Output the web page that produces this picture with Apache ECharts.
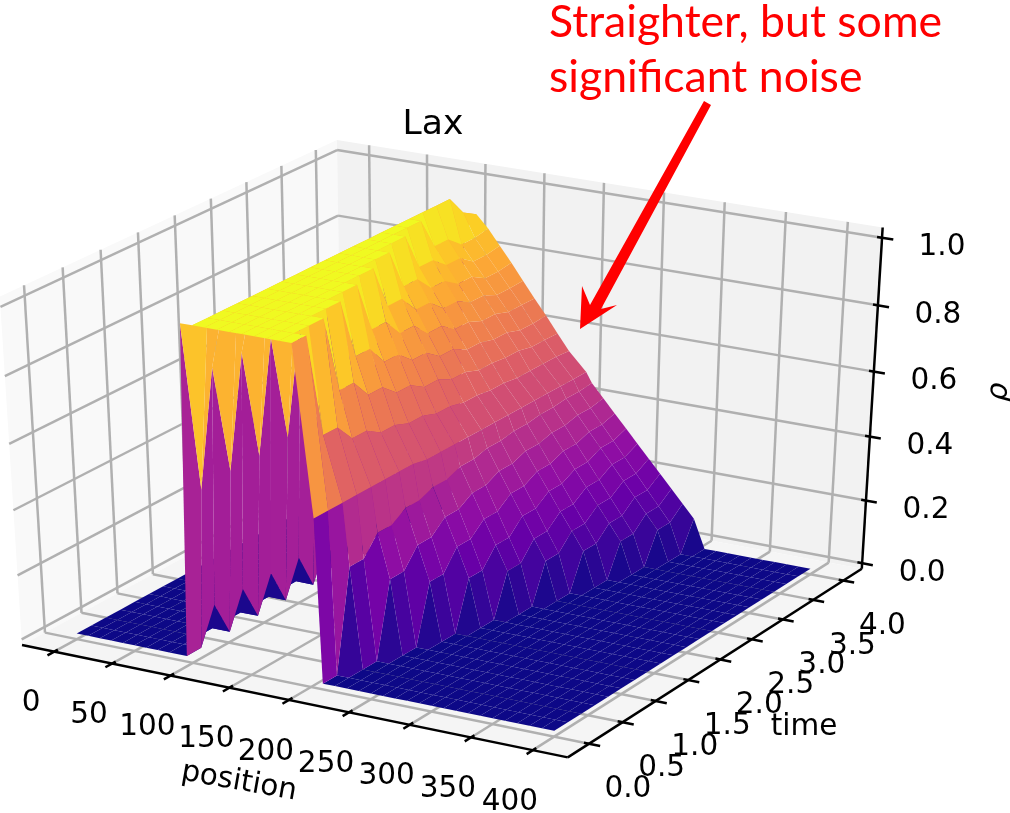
<!DOCTYPE html>
<html><head><meta charset="utf-8">
<style>html,body{margin:0;padding:0;background:#fff}#c{width:1010px;height:813px}</style>
<script src="https://cdn.jsdelivr.net/npm/echarts@6/dist/echarts.min.js"></script>
</head><body><div id="c"></div>
<script>
const chartTitle = 'Lax';
const positionTicks = [0,50,100,150,200,250,300,350,400];
const timeTicks = ['0.0','0.5','1.0','1.5','2.0','2.5','3.0','3.5','4.0'];
const rhoTicks = ['0.0','0.2','0.4','0.6','0.8','1.0'];
const positions = [0,10,20,30,40,50,60,70,80,95,100,110,120,130,140,150,160,170,180,190,205,210,220,230,240,250,260,270,280,290,300,310,320,330,340,350,360,370,380,390,400];
const times = [0,0.2,0.4,0.6,0.8,1,1.2,1.4,1.6,1.8,2,2.2,2.4,2.6,2.8,3,3.2,3.4,3.6,3.8,4];
// rho: one row per time, one column per position
const rho = [
[0,0,0,0,0,0,0,0,0, 0,1, 1,1,1,1,1,1,1,1,1,.5, 0,0,0,0,0,0,0,0,0,0,0,0,0,0,0,0,0,0,0,0],
[0,0,0,0,0,0,0,0,0, 0,.49, 1,1,1,1,1,1,1,1,1,.5, 0,0,0,0,0,0,0,0,0,0,0,0,0,0,0,0,0,0,0,0],
[0,0,0,0,0,0,0,0,0, .11,.83, 1,1,1,1,1,1,1,1,.69,.5, .31,0,0,0,0,0,0,0,0,0,0,0,0,0,0,0,0,0,0,0],
[0,0,0,0,0,0,0,0,0, 0,.5, 1,1,1,1,1,1,1,1,.69,.5, .31,0,0,0,0,0,0,0,0,0,0,0,0,0,0,0,0,0,0,0],
[0,0,0,0,0,0,0,0,0, .11,.83, 1,1,1,1,1,1,1,.77,.635,.5, .365,.23,0,0,0,0,0,0,0,0,0,0,0,0,0,0,0,0,0,0],
[0,0,0,0,0,0,0,0,0, 0,.5, 1,1,1,1,1,1,1,.77,.635,.5, .365,.23,0,0,0,0,0,0,0,0,0,0,0,0,0,0,0,0,0,0],
[0,0,0,0,0,0,0,0,0, .11,.83, 1,1,1,1,1,1,.82,.713,.607,.5, .393,.287,.18,0,0,0,0,0,0,0,0,0,0,0,0,0,0,0,0,0],
[0,0,0,0,0,0,0,0,0, 0,.51, 1,1,1,1,1,1,.82,.713,.607,.5, .393,.287,.18,0,0,0,0,0,0,0,0,0,0,0,0,0,0,0,0,0],
[0,0,0,0,0,0,0,0,0, .11,.83, 1,1,1,1,1,.85,.76,.675,.59,.49, .41,.325,.24,.15,0,0,0,0,0,0,0,0,0,0,0,0,0,0,0,0],
[0,0,0,0,0,0,0,0,0, 0,.51, 1,1,1,1,1,.85,.76,.675,.59,.49, .41,.325,.24,.15,0,0,0,0,0,0,0,0,0,0,0,0,0,0,0,0],
[0,0,0,0,0,0,0,0,0, .11,.83, 1,1,1,1,.87,.796,.722,.648,.574,.49, .426,.352,.278,.204,.13,0,0,0,0,0,0,0,0,0,0,0,0,0,0,0],
[0,0,0,0,0,0,0,0,0, 0,.51, 1,1,1,1,.87,.796,.722,.648,.574,.49, .426,.352,.278,.204,.13,0,0,0,0,0,0,0,0,0,0,0,0,0,0,0],
[0,0,0,0,0,0,0,0,0, .11,.83, 1,1,1,.88,.817,.753,.69,.627,.563,.49, .437,.373,.31,.247,.183,.12,0,0,0,0,0,0,0,0,0,0,0,0,0,0],
[0,0,0,0,0,0,0,0,0, 0,.51, 1,1,1,.88,.817,.753,.69,.627,.563,.49, .437,.373,.31,.247,.183,.12,0,0,0,0,0,0,0,0,0,0,0,0,0,0],
[0,0,0,0,0,0,0,0,0, .11,.83, 1,1,.89,.834,.779,.723,.667,.611,.556,.49, .444,.389,.333,.277,.221,.166,.11,0,0,0,0,0,0,0,0,0,0,0,0,0],
[0,0,0,0,0,0,0,0,0, 0,.51, 1,1,.89,.834,.779,.723,.667,.611,.556,.49, .444,.389,.333,.277,.221,.166,.11,0,0,0,0,0,0,0,0,0,0,0,0,0],
[0,0,0,0,0,0,0,0,0, .11,.83, 1,.905,.855,.805,.755,.705,.655,.605,.55,.49, .45,.4,.35,.3,.25,.2,.15,.1,0,0,0,0,0,0,0,0,0,0,0,0],
[0,0,0,0,0,0,0,0,0, 0,.51, 1,.905,.855,.805,.755,.705,.655,.605,.55,.49, .45,.4,.35,.3,.25,.2,.15,.1,0,0,0,0,0,0,0,0,0,0,0,0],
[0,0,0,0,0,0,0,0,0, .11,.83, 1,.87,.825,.78,.735,.69,.64,.595,.55,.49, .455,.41,.365,.32,.275,.23,.185,.14,.095,0,0,0,0,0,0,0,0,0,0,0],
[0,0,0,0,0,0,0,0,0, 0,.51, .94,.87,.825,.78,.735,.69,.64,.595,.55,.49, .455,.41,.365,.32,.275,.23,.185,.14,.095,0,0,0,0,0,0,0,0,0,0,0],
[0,0,0,0,0,0,0,0,0, .11,.86, .915,.878,.832,.786,.737,.689,.643,.594,.546,.49, .459,.418,.377,.336,.295,.254,.213,.172,.131,.09,0,0,0,0,0,0,0,0,0,0]
];
const plasmaStops = ['#0d0887','#41049d','#6a00a8','#8f0da4','#b12a90','#cc4778','#e16462','#f1844b','#fca636','#fcce25','#f0f921'];

// view limits of the 3-D box
const xLim = [-28, 428], tLim = [-0.31, 4.31], rLim = [-0.018, 1.03];
const el = 30*Math.PI/180, az = -60*Math.PI/180, dist = 10;
const W = [Math.cos(el)*Math.cos(az), Math.cos(el)*Math.sin(az), Math.sin(el)];
const U = [-Math.sin(az), Math.cos(az), 0];
const V = [-Math.sin(el)*Math.cos(az), -Math.sin(el)*Math.sin(az), Math.cos(el)];
const scaleX = 630, scaleY = 398, originX = 448.4, originY = 438.2;
const dot = (a,b)=>a[0]*b[0]+a[1]*b[1]+a[2]*b[2];
function q(x,t,r){return [(x-xLim[0])/(xLim[1]-xLim[0])-.5,(t-tLim[0])/(tLim[1]-tLim[0])-.5,(r-rLim[0])/(rLim[1]-rLim[0])-.5];}
function depth(x,t,r){return dist-dot(W,q(x,t,r));}
function project(x,t,r){const p=q(x,t,r),D=dist-dot(W,p);
  return [originX+scaleX*dist*dot(U,p)/D, originY-scaleY*dist*dot(V,p)/D];}

function plasma(v){const f=Math.max(0,Math.min(1,v))*(plasmaStops.length-1),i=Math.min(Math.floor(f),plasmaStops.length-2),k=f-i;
  const h=s=>[parseInt(s.slice(1,3),16),parseInt(s.slice(3,5),16),parseInt(s.slice(5,7),16)];
  const a=h(plasmaStops[i]),b=h(plasmaStops[i+1]);
  return 'rgb('+a.map((c,j)=>Math.round(c+(b[j]-c)*k)).join(',')+')';}

// cells, far ones first
const cells=[];
for(let n=0;n<times.length-1;n++)for(let c=0;c<positions.length-1;c++){
  const d=(depth(positions[c],times[n],rho[n][c])+depth(positions[c+1],times[n],rho[n][c+1])+depth(positions[c+1],times[n+1],rho[n+1][c+1])+depth(positions[c],times[n+1],rho[n+1][c]))/4;
  cells.push([n,c,d]);
}
cells.sort((a,b)=>b[2]-a[2]);

const xT=positionTicks, tT=timeTicks.map(Number), rT=rhoTicks.map(Number);
const [xa,xb]=xLim,[ta,tb]=tLim,[ra,rb]=rLim;
const panes=[
  {pts:[[xa,ta,ra],[xa,tb,ra],[xa,tb,rb],[xa,ta,rb]],fill:'#f9f9f9'},
  {pts:[[xa,tb,ra],[xb,tb,ra],[xb,tb,rb],[xa,tb,rb]],fill:'#f2f2f2'},
  {pts:[[xa,ta,ra],[xb,ta,ra],[xb,tb,ra],[xa,tb,ra]],fill:'#f5f5f5'}
];
const gridSegs=[];
xT.forEach(x=>{gridSegs.push([[x,ta,ra],[x,tb,ra]]);gridSegs.push([[x,tb,ra],[x,tb,rb]]);});
tT.forEach(t=>{gridSegs.push([[xa,t,ra],[xb,t,ra]]);gridSegs.push([[xa,t,ra],[xa,t,rb]]);});
rT.forEach(r=>{gridSegs.push([[xa,ta,r],[xa,tb,r]]);gridSegs.push([[xa,tb,r],[xb,tb,r]]);});
const axisSegs=[[[xa,ta,ra],[xb,ta,ra]],[[xb,ta,ra],[xb,tb,ra]],[[xb,tb,ra],[xb,tb,rb]]];
xT.forEach(x=>axisSegs.push([[x,ta+.05,ra],[x,ta-.09,ra]]));
tT.forEach(t=>axisSegs.push([[xb-4,t,ra],[xb+9,t,ra]]));
rT.forEach(r=>axisSegs.push([[xb-4,tb,r],[xb+9,tb,r]]));
const labels=[];
xT.forEach(x=>{const p=project(x,ta,ra);labels.push({s:String(x),x:p[0]-23,y:p[1]+52});});
tT.forEach((t,i)=>{const p=project(xb,t,ra);labels.push({s:timeTicks[i],x:p[0]+39,y:p[1]+46});});
rT.forEach((r,i)=>{const p=project(xb,tb,r);labels.push({s:rhoTicks[i],x:p[0]+60,y:p[1]+10});});
labels.push({s:'position',x:239,y:782,rot:-0.175});
labels.push({s:'time',x:804,y:727});
labels.push({s:'ρ',x:999,y:392,rot:1.5,it:true});

const FONT='"DejaVu Sans"';
function pxLine(api,s,color,w){const a=api.coord(project(...s[0])),b=api.coord(project(...s[1]));
  return {type:'line',shape:{x1:a[0],y1:a[1],x2:b[0],y2:b[1]},style:{stroke:color,lineWidth:w,lineCap:'butt'}};}

const hidden={show:false};
const option={
  animation:false,
  backgroundColor:'#fff',
  title:{text:chartTitle,left:428,top:103,textAlign:'center',textStyle:{fontFamily:FONT,fontWeight:'normal',fontSize:34.5,color:'#000'}},
  grid:{left:0,right:0,top:0,bottom:0},
  xAxis:{type:'value',min:0,max:1010,...hidden},
  yAxis:{type:'value',min:0,max:813,inverse:true,...hidden},
  graphic:[
    {type:'polygon',silent:true,z:100,shape:{points:[[704,101],[711,105],[601,309],[617,305],[580,329],[582,286],[590,305]]},style:{fill:'#ff0000'}},
    {type:'text',silent:true,z:100,x:549,y:23,style:{text:'Straighter, but some',fill:'#ff0000',fontFamily:'Lato',fontSize:44.6,verticalAlign:'middle'}},
    {type:'text',silent:true,z:100,x:549,y:78,style:{text:'significant noise',fill:'#ff0000',fontFamily:'Lato',fontSize:44.6,verticalAlign:'middle'}}
  ],
  series:[
    {type:'custom',silent:true,z:1,coordinateSystem:'cartesian2d',clip:false,data:panes.map((_,i)=>[i,0]),
     renderItem:(p,api)=>{const o=panes[api.value(0)];
       return {type:'polygon',shape:{points:o.pts.map(a=>api.coord(project(...a)))},style:{fill:o.fill}};}},
    {type:'custom',silent:true,z:2,coordinateSystem:'cartesian2d',clip:false,data:gridSegs.map((_,i)=>[i,0]),
     renderItem:(p,api)=>pxLine(api,gridSegs[api.value(0)],'#b0b0b0',2.5)},
    {type:'custom',silent:true,z:3,coordinateSystem:'cartesian2d',clip:false,data:axisSegs.map((_,i)=>[i,0]),
     renderItem:(p,api)=>pxLine(api,axisSegs[api.value(0)],'#000',2.5)},
    {type:'custom',silent:true,z:4,coordinateSystem:'cartesian2d',clip:false,progressive:0,data:cells.map(c=>[c[0],c[1]]),
     renderItem:(p,api)=>{const n=api.value(0),c=api.value(1);
       const corners=[[c,n],[c+1,n],[c+1,n+1],[c,n+1]];
       const avg=corners.reduce((s,a)=>s+rho[a[1]][a[0]],0)/4;
       return {type:'polygon',shape:{points:corners.map(a=>api.coord(project(positions[a[0]],times[a[1]],rho[a[1]][a[0]])))},style:{fill:plasma(avg)}};}},
    {type:'custom',silent:true,z:5,coordinateSystem:'cartesian2d',clip:false,data:labels.map((_,i)=>[i,0]),
     renderItem:(p,api)=>{const o=labels[api.value(0)],a=api.coord([o.x,o.y]);
       return {type:'text',x:a[0],y:a[1],rotation:o.rot||0,style:{text:o.s,fill:'#000',fontFamily:FONT,fontSize:29.5,fontStyle:o.it?'italic':'normal',align:'center',verticalAlign:'middle'}};}}
  ]
};
echarts.init(document.getElementById('c'),null,{renderer:'canvas'}).setOption(option);
</script></body></html>
